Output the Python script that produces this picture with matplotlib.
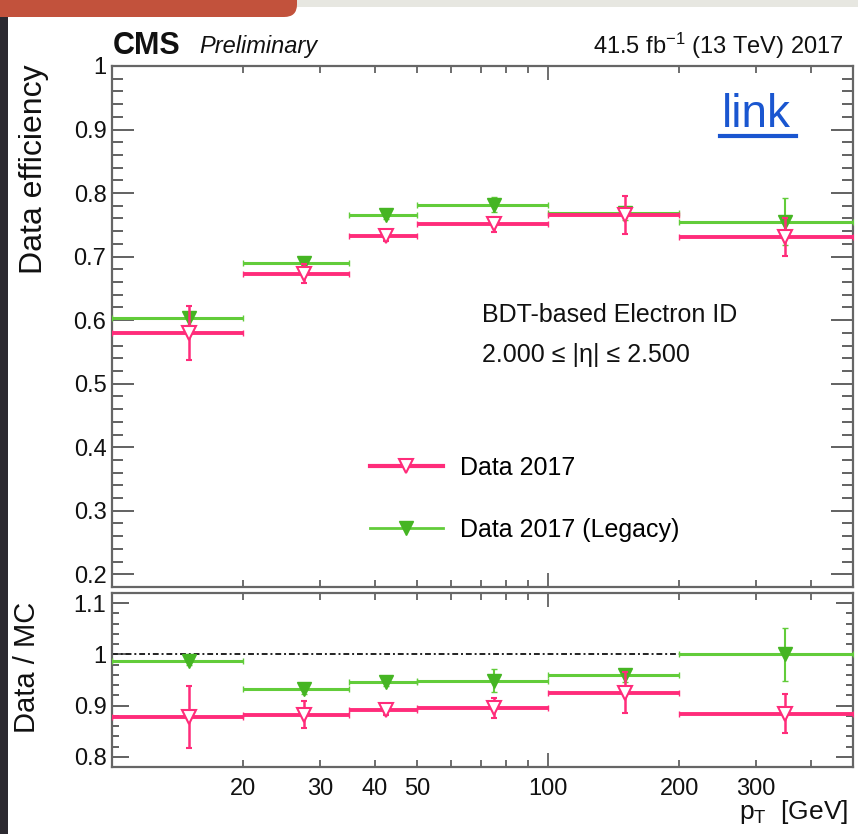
import numpy as np
import matplotlib
matplotlib.use("Agg")
import matplotlib.pyplot as plt
from matplotlib.lines import Line2D
from matplotlib.patches import Rectangle, FancyBboxPatch

plt.rcParams['font.family'] = ['Liberation Sans', 'DejaVu Sans']
plt.rcParams['mathtext.fontset'] = 'custom'
plt.rcParams['mathtext.rm'] = 'Liberation Sans'
plt.rcParams['mathtext.it'] = 'Liberation Sans:italic'

# pT bins [GeV]
pt_edges = [10, 20, 35, 50, 100, 200, 500]
pt_centers = [15, 27.5, 42.5, 75, 150, 350]

# data efficiency
eff_2017 = [0.580, 0.673, 0.732, 0.751, 0.766, 0.731]
eff_2017_err = [0.042, 0.015, 0.008, 0.012, 0.030, 0.030]
eff_legacy = [0.603, 0.690, 0.765, 0.782, 0.768, 0.755]
eff_legacy_err = [0.010, 0.006, 0.006, 0.012, 0.010, 0.037]

# data / MC
sf_2017 = [0.878, 0.882, 0.892, 0.895, 0.925, 0.884]
sf_2017_err = [0.061, 0.026, 0.010, 0.020, 0.040, 0.038]
sf_legacy = [0.988, 0.933, 0.947, 0.949, 0.959, 1.000]
sf_legacy_err = [0.008, 0.010, 0.008, 0.022, 0.012, 0.052]

pink = '#ff2c7a'
green = '#62cc3a'
green_mk = '#45b523'

W, H = 858, 834
def fx(x):
    return x / W
def fy(y):
    return 1 - y / H

centers = np.array(pt_centers)
edges = np.array(pt_edges)
xerr = [centers - edges[:-1], edges[1:] - centers]

fig = plt.figure(figsize=(W / 100, H / 100), dpi=100)
ax = fig.add_axes([fx(112), fy(587), fx(853) - fx(112), fy(66) - fy(587)])
axr = fig.add_axes([fx(112), fy(767), fx(853) - fx(112), fy(593) - fy(767)])


def draw(a, y_l, e_l, y_p, e_p):
    a.errorbar(centers, y_l, xerr=xerr, fmt='none', ecolor=green, elinewidth=2.2,
               capsize=2, zorder=3)
    a.errorbar(centers, y_l, yerr=e_l, fmt='v', color=green_mk, ecolor=green,
               elinewidth=1.5, ms=10, capsize=2, zorder=4)
    a.errorbar(centers, y_p, xerr=xerr, fmt='none', ecolor=pink, elinewidth=2.8,
               capsize=2, zorder=5)
    a.errorbar(centers, y_p, yerr=e_p, fmt='v', mfc='white', mec=pink, mew=1.5,
               ecolor=pink, elinewidth=1.8, ms=10, capsize=2, zorder=6)


draw(ax, eff_legacy, eff_legacy_err, eff_2017, eff_2017_err)
draw(axr, sf_legacy, sf_legacy_err, sf_2017, sf_2017_err)
axr.axhline(1.0, color='#222222', lw=1.4, ls=(0, (3, 1.5, 1, 1.5)), zorder=2)

minor_x = [20, 30, 40, 50, 60, 70, 80, 90, 200, 300, 400]
minor_lab = ['20', '30', '40', '50', '', '', '', '', '200', '300', '']

for a, lo, hi in [(ax, 0.18, 1.0), (axr, 0.78, 1.12)]:
    a.set_xscale('log')
    a.set_xlim(10, 500)
    a.set_ylim(lo, hi)
    a.set_xticks([100])
    a.set_xticks(minor_x, minor=True)
    a.tick_params(axis='both', which='both', direction='in', top=True, right=True,
                  colors='#555555', labelcolor='#111111', labelsize=17)
    a.tick_params(axis='x', which='major', length=10, width=1.2)
    a.tick_params(axis='x', which='minor', length=5, width=1.2)
    for s in a.spines.values():
        s.set_color('#666666')
        s.set_linewidth(1.6)

ax.set_yticks(np.arange(0.2, 1.001, 0.1))
ax.set_yticks(np.arange(0.2, 1.001, 0.02), minor=True)
ax.set_yticklabels(['0.2', '0.3', '0.4', '0.5', '0.6', '0.7', '0.8', '0.9', '1'])
ax.tick_params(axis='y', which='major', length=16, width=1.3, pad=4)
ax.tick_params(axis='y', which='minor', length=8, width=1.3)
ax.tick_params(axis='x', which='both', labelbottom=False)

axr.set_yticks([0.8, 0.9, 1.0, 1.1])
axr.set_yticks(np.arange(0.8, 1.111, 0.02), minor=True)
axr.set_yticklabels(['0.8', '0.9', '1', '1.1'])
axr.tick_params(axis='y', which='major', length=12, width=1.3, pad=4)
axr.tick_params(axis='y', which='minor', length=5, width=1.3)
axr.set_xticklabels(['100'])
axr.set_xticklabels(minor_lab, minor=True)
axr.tick_params(axis='x', which='both', pad=8)

# labels and texts
fig.text(fx(34), fy(64), 'Data efficiency', rotation=90, ha='center', va='top',
         fontsize=23, color='#111111')
fig.text(fx(27), fy(667), 'Data / MC', rotation=90, ha='center', va='center',
         fontsize=21, color='#111111')
fig.text(fx(848), fy(812), r'p$_{\mathrm{T}}$  [GeV]', ha='right', va='center',
         fontsize=19, color='#111111')
fig.text(fx(113), fy(54), 'CMS', fontsize=22, fontweight='bold', ha='left',
         va='baseline', color='#111111')
fig.text(fx(199), fy(53), 'Preliminary', fontsize=17, style='italic', ha='left',
         va='baseline', color='#111111')
fig.text(fx(843), fy(54), r'41.5 fb$^{-1}$ (13 TeV) 2017', fontsize=17, ha='right',
         va='baseline', color='#111111')
fig.text(fx(482), fy(322), 'BDT-based Electron ID', fontsize=18, ha='left',
         va='baseline', color='#111111')
fig.text(fx(482), fy(362), '2.000 ≤ |η| ≤ 2.500', fontsize=18, ha='left',
         va='baseline', color='#111111')

handles = [
    Line2D([], [], color=pink, lw=3, marker='v', mfc='white', mec=pink, mew=1.5, ms=10),
    Line2D([], [], color=green, lw=2, marker='v', mfc=green_mk, mec=green_mk, ms=10),
]
ax.legend(handles, ['Data 2017', 'Data 2017 (Legacy)'], loc='upper left',
          bbox_to_anchor=((370 - 112) / 741, (587 - 456) / 521), frameon=False,
          fontsize=18, handlelength=2.9, handletextpad=0.7, labelspacing=1.5,
          borderpad=0, borderaxespad=0)

# slide decoration
fig.patches.append(Rectangle((0, 0), fx(8), fy(17), transform=fig.transFigure,
                             facecolor='#2b2930', edgecolor='none', zorder=10))
fig.patches.append(Rectangle((fx(280), fy(7)), 1 - fx(280), 7 / H,
                             transform=fig.transFigure, facecolor='#e7e7e1',
                             edgecolor='none', zorder=10))
fig.patches.append(FancyBboxPatch((-0.05, fy(17)), fx(297) + 0.05, 0.1,
                                  boxstyle='round,pad=0,rounding_size=0.015',
                                  transform=fig.transFigure, facecolor='#c2523c',
                                  edgecolor='none', zorder=11))

fig.text(fx(722), fy(127), 'link', fontsize=33, color='#1a56d0', ha='left',
         va='baseline')
fig.add_artist(Line2D([fx(720), fx(796)], [fy(136), fy(136)], color='#1a56d0', lw=3))

fig.savefig('out.png', dpi=100)
